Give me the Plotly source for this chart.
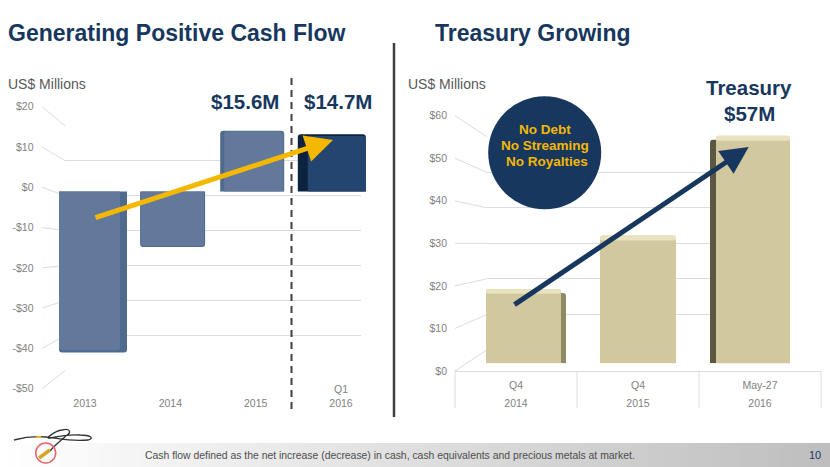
import plotly.graph_objects as go

# ---- data ----
cf_categories = ["2013", "2014", "2015", "2016"]
cf_tick_text = ["<br>2013", "<br>2014", "<br>2015", "Q1<br>2016"]
cf_values = [-41.3, -14.2, 15.6, 14.7]
cf_axis_values = [20, 10, 0, -10, -20, -30, -40, -50]
cf_axis_labels = ["$20", "$10", "$0", "-$10", "-$20", "-$30", "-$40", "-$50"]

tr_categories = ["Q4 2014", "Q4 2015", "May-27 2016"]
tr_periods = ["Q4", "Q4", "May-27"]
tr_years = ["2014", "2015", "2016"]
tr_values = [18.6, 32.0, 57.0]
tr_axis_values = [60, 50, 40, 30, 20, 10, 0]
tr_axis_labels = ["$60", "$50", "$40", "$30", "$20", "$10", "$0"]

W, H = 830, 467
NAVY = "#17375e"
GOLD = "#f5b800"
GREY = "#7f7f7f"
GRID = "#dcdcdc"
FONT = "Liberation Sans"


def px(x):
    return x / W


def py(y):
    return 1 - y / H


def dom_x(a, b):
    return [px(a), px(b)]


def dom_y(top, bottom):
    return [py(bottom), py(top)]


fig = go.Figure()
shapes = []
annotations = []

# footer band gradient
N = 83
for i in range(N):
    t = i / (N - 1)
    v = int(round(255 - (255 - 190) * t))
    shapes.append(dict(type="rect", xref="paper", yref="paper", layer="below",
                       x0=px(i * W / N), x1=px((i + 1) * W / N + 0.5), y0=py(467), y1=py(443),
                       line_width=0, fillcolor=f"rgb({v},{v},{v})"))


def dummy(xvals, yvals, xa, ya):
    fig.add_scatter(x=xvals, y=yvals, xaxis=xa, yaxis=ya, mode="none", showlegend=False, hoverinfo="skip")


tick_font = dict(family=FONT, size=10.5, color=GREY)
hidden = dict(visible=False, fixedrange=True)

# ---- left chart ----
dummy(cf_categories, [0, 0, 0, 0], "x", "y")
dummy([0, 1], [0, 0], "x2", "y2")
cf_unit = 79.6
cf_w = [68 / cf_unit, 65 / cf_unit, 64 / cf_unit, 68 / cf_unit]
fig.add_bar(x=cf_categories[:3], y=cf_values[:3], xaxis="x3", yaxis="y3", width=cf_w[:3],
            marker_color="#4f6a8f", marker_line_width=0, showlegend=False, hoverinfo="skip")
fig.add_bar(x=cf_categories[:3], y=[v * 0.985 for v in cf_values[:3]], xaxis="x3", yaxis="y3",
            width=[cf_w[0] - 7 / cf_unit, cf_w[1] - 2 / cf_unit, cf_w[2] - 5 / cf_unit],
            offset=[-cf_w[0] / 2, -cf_w[1] / 2 + 1 / cf_unit, -cf_w[2] / 2 + 4 / cf_unit],
            marker_color="#62799c", marker_line_width=0, showlegend=False, hoverinfo="skip")
fig.add_bar(x=cf_categories[3:], y=cf_values[3:], xaxis="x3", yaxis="y3", width=cf_w[3:],
            marker_color="#0c2340", marker_line_width=0, showlegend=False, hoverinfo="skip")
fig.add_bar(x=cf_categories[3:], y=[v * 0.97 for v in cf_values[3:]], xaxis="x3", yaxis="y3",
            width=[(cf_w[3] - 10 / cf_unit)], offset=[-cf_w[3] / 2 + 10 / cf_unit],
            marker_color="#24456f", marker_line_width=0, showlegend=False, hoverinfo="skip")

# ---- right chart ----
dummy(tr_categories, [0, 0, 0], "x4", "y4")
dummy([0, 1], [0, 0], "x5", "y5")
tr_unit = 112
tr_w = [80 / tr_unit, 76 / tr_unit, 80 / tr_unit]
face_off = [-tr_w[0] / 2, -tr_w[1] / 2, -tr_w[2] / 2 + 6 / tr_unit]
face_w = [tr_w[0] - 5 / tr_unit, tr_w[1], tr_w[2] - 6 / tr_unit]
fig.add_bar(x=tr_categories, y=[v - 1 for v in tr_values], xaxis="x6", yaxis="y6", width=tr_w,
            marker_color=["#8f8964", "#d2c89f", "#5c5740"], marker_line_width=0, showlegend=False, hoverinfo="skip")
fig.add_bar(x=tr_categories, y=tr_values, xaxis="x6", yaxis="y6",
            width=face_w, offset=face_off,
            marker_color="#d2c89f", marker_line_width=0, showlegend=False, hoverinfo="skip")
fig.add_bar(x=tr_categories, y=[1.2] * 3, base=[v - 1.2 for v in tr_values], xaxis="x6", yaxis="y6",
            width=face_w, offset=face_off,
            marker_color="#e9e2bf", marker_line_width=0, showlegend=False, hoverinfo="skip")

# two-row category labels: the outer size sets the row pitch
tr_tick_text = [f"<span style='font-size:10.5px'>{p}</span><br><span style='font-size:10.5px'>{y}</span>"
                for p, y in zip(tr_periods, tr_years)]

layout = dict(
    width=W, height=H, margin=dict(l=0, r=0, t=0, b=0, autoexpand=False), paper_bgcolor="white",
    plot_bgcolor="rgba(0,0,0,0)",
    showlegend=False, barmode="overlay", barcornerradius=3,
    xaxis=dict(domain=dom_x(42.3, 383.7), anchor="free", position=py(381.5), type="category",
               categoryorder="array", categoryarray=cf_categories, range=[-0.5, 3.5],
               tickvals=cf_categories, ticktext=cf_tick_text, tickfont=tick_font, ticks="", showline=False,
               showgrid=False, zeroline=False, fixedrange=True),
    yaxis=dict(domain=dom_y(106.7, 388.7), range=[-50, 20], anchor="free", position=px(33.5), tickvals=cf_axis_values,
               ticktext=cf_axis_labels, tickfont=tick_font, showgrid=False, zeroline=False, ticks="", fixedrange=True),
    xaxis2=dict(domain=dom_x(65, 361), anchor="y2", **hidden),
    yaxis2=dict(domain=dom_y(125.7, 370.5), range=[-50, 20], anchor="x2", tickvals=cf_axis_values, showticklabels=False,
                showgrid=True, gridcolor=GRID, gridwidth=1, zeroline=False, ticks="", fixedrange=True),
    xaxis3=dict(domain=dom_x(53.2, 371.6), anchor="y3", type="category", categoryorder="array",
                categoryarray=cf_categories, **hidden),
    yaxis3=dict(domain=dom_y(125.2, 367), range=[-45, 17], anchor="x3", **hidden),
    xaxis4=dict(domain=dom_x(455, 821), anchor="y4", type="category", categoryorder="array",
                categoryarray=tr_categories, tickvals=tr_categories, ticktext=tr_tick_text,
                tickfont=dict(family=FONT, size=13.85, color=GREY), showline=True, range=[-0.5, 2.5],
                linecolor=GRID, ticks="", showgrid=False, zeroline=False, fixedrange=True),
    yaxis4=dict(domain=dom_y(115.7, 371), range=[0, 60], anchor="free", position=px(447), tickvals=tr_axis_values,
                ticktext=tr_axis_labels, tickfont=tick_font, showgrid=False, zeroline=False, ticks="", fixedrange=True),
    xaxis5=dict(domain=dom_x(486.7, 788), anchor="y5", **hidden),
    yaxis5=dict(domain=dom_y(136.7, 350), range=[0, 60], anchor="x5", tickvals=tr_axis_values, showticklabels=False,
                showgrid=True, gridcolor=GRID, gridwidth=1, zeroline=False, ticks="", fixedrange=True),
    xaxis6=dict(domain=dom_x(470, 806), anchor="y6", type="category", categoryorder="array",
                categoryarray=tr_categories, **hidden),
    yaxis6=dict(domain=dom_y(123.9, 363.3), range=[0, 60], anchor="x6", **hidden),
)


def lab_y(v, lo, hi, top, bottom):
    return bottom - (v - lo) / (hi - lo) * (bottom - top)


for v in cf_axis_values:
    shapes.append(dict(type="line", xref="paper", yref="paper", layer="below", x0=px(42), x1=px(65),
                       y0=py(lab_y(v, -50, 20, 106.7, 388.7)), y1=py(lab_y(v, -50, 20, 125.7, 370.5)),
                       line=dict(color=GRID, width=1)))
for v in tr_axis_values:
    shapes.append(dict(type="line", xref="paper", yref="paper", layer="below", x0=px(455), x1=px(486.7),
                       y0=py(lab_y(v, 0, 60, 115.7, 371)), y1=py(lab_y(v, 0, 60, 136.7, 350)),
                       line=dict(color=GRID, width=1)))

# category dividers under the right chart
for i in range(len(tr_categories) + 1):
    xd = 455 + i * (821 - 455) / len(tr_categories)
    shapes.append(dict(type="line", xref="paper", yref="paper", layer="below", x0=px(xd), x1=px(xd),
                       y0=py(371), y1=py(408), line=dict(color=GRID, width=1)))

# separators
shapes.append(dict(type="line", xref="paper", yref="paper", x0=px(394), x1=px(394), y0=py(43), y1=py(417),
                   line=dict(color="#404040", width=2.5)))
shapes.append(dict(type="line", xref="paper", yref="paper", x0=px(291.5), x1=px(291.5), y0=py(78), y1=py(411),
                   line=dict(color="#404040", width=2, dash="7px,5px")))
# circle
shapes.append(dict(type="circle", xref="paper", yref="paper", x0=px(488.2), x1=px(601.2), y0=py(96.2), y1=py(209.2),
                   fillcolor=NAVY, line_width=0))


# small logo
def logo_path(pts):
    out = []
    for p in pts:
        if isinstance(p, str):
            out.append(p)
        else:
            out.append(f"{px(p[0])},{py(p[1])}")
    return " ".join(out)


wire = ["M", (14, 440), "C", (25, 437), (35, 436), (46, 437), "C", (56, 438), (72, 442), (88, 440),
        "C", (95, 438), (90, 435), (80, 435), "C", (70, 434), (55, 437), (50, 438),
        "C", (44, 440), (54, 431), (62, 430), "C", (70, 428), (72, 432), (66, 436),
        "C", (60, 441), (54, 446), (50, 451)]
shapes.append(dict(type="path", xref="paper", yref="paper", path=logo_path(wire), line=dict(color="#333333", width=1.3)))
shapes.append(dict(type="line", xref="paper", yref="paper", x0=px(36), x1=px(41), y0=py(437), y1=py(436.6),
                   line=dict(color=GOLD, width=1.5)))
shapes.append(dict(type="line", xref="paper", yref="paper", x0=px(39), x1=px(50), y0=py(458), y1=py(450),
                   line=dict(color="#d9a520", width=3.5)))
shapes.append(dict(type="circle", xref="paper", yref="paper", x0=px(35.7), x1=px(55.7), y0=py(443), y1=py(463),
                   line=dict(color="#e8626a", width=1.5)))


def text(x, y, s, size, color, bold=False, anchor="left"):
    annotations.append(dict(xref="paper", yref="paper", x=px(x), y=py(y), text=f"<b>{s}</b>" if bold else s,
                            showarrow=False, xanchor=anchor, yanchor="middle", align=anchor,
                            font=dict(family=FONT, size=size, color=color), borderpad=0, borderwidth=0))


def arrow(x0, y0, x1, y1, color):
    annotations.append(dict(xref="paper", yref="paper", x=px(x1), y=py(y1),
                            ax=x0 - x1, ay=y0 - y1, text="", showarrow=True, arrowhead=2, arrowsize=1.1, arrowwidth=5,
                            arrowcolor=color, standoff=0, startstandoff=0))


text(8, 33, "Generating Positive Cash Flow", 23, NAVY, True)
text(435, 33, "Treasury Growing", 23, NAVY, True)
text(8, 84, "US$ Millions", 14, "#595959")
text(408, 84, "US$ Millions", 14, "#595959")
text(245, 102, "$15.6M", 20.5, NAVY, True, "center")
text(338, 102, "$14.7M", 20.5, NAVY, True, "center")
text(749, 88, "Treasury", 20.5, NAVY, True, "center")
text(749, 113, "$57M", 20.5, NAVY, True, "center")
text(544.7, 129, "No Debt", 13.5, GOLD, True, "center")
text(544.7, 146, "No Streaming", 13.5, GOLD, True, "center")
text(546.7, 162, "No Royalties", 13.5, GOLD, True, "center")
arrow(94, 218, 333, 140, GOLD)
arrow(513, 305.7, 748.7, 147, NAVY)
text(144.5, 455, "Cash flow defined as the net increase (decrease) in cash, cash equivalents and precious metals at market.", 10.4, "#4d4d4d")
text(815, 455, "10", 11, NAVY, False, "center")

layout["shapes"] = shapes
layout["annotations"] = annotations
fig.update_layout(**layout)
fig.write_html("out.html", post_script="document.body.style.margin='0';", config={"displayModeBar": False})
